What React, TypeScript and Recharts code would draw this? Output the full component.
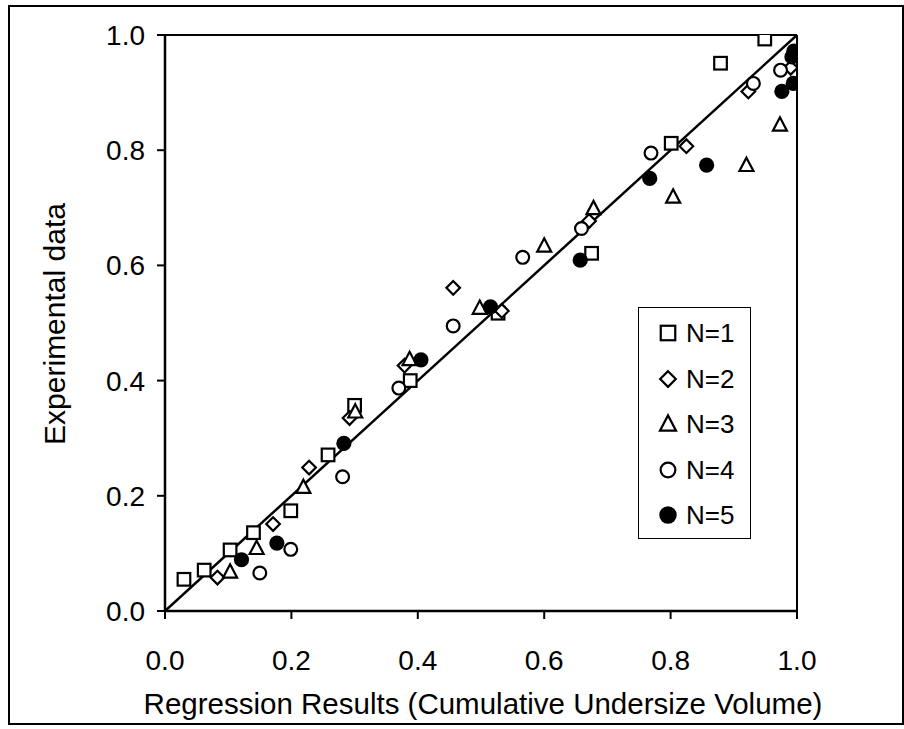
import React from "react";
import {
  ScatterChart,
  Scatter,
  XAxis,
  YAxis,
  ReferenceLine,
  Legend,
  Label,
} from "recharts";

const FONT = '"Liberation Sans", Arial, Helvetica, sans-serif';

// Tick values for both axes
const axisTicks = [0, 0.2, 0.4, 0.6, 0.8, 1.0];

// Perfect-agreement diagonal
const diagonal = [
  { x: 0, y: 0 },
  { x: 1, y: 1 },
];

// N=1 (open squares)
const seriesN1 = [
  { x: 0.03, y: 0.055 },
  { x: 0.062, y: 0.071 },
  { x: 0.103, y: 0.106 },
  { x: 0.14, y: 0.136 },
  { x: 0.199, y: 0.174 },
  { x: 0.258, y: 0.271 },
  { x: 0.3, y: 0.357 },
  { x: 0.388, y: 0.4 },
  { x: 0.527, y: 0.517 },
  { x: 0.675, y: 0.621 },
  { x: 0.801, y: 0.812 },
  { x: 0.879, y: 0.951 },
  { x: 0.949, y: 0.993 },
];

// N=2 (open diamonds)
const seriesN2 = [
  { x: 0.083, y: 0.058 },
  { x: 0.171, y: 0.151 },
  { x: 0.228, y: 0.249 },
  { x: 0.292, y: 0.335 },
  { x: 0.379, y: 0.426 },
  { x: 0.456, y: 0.561 },
  { x: 0.533, y: 0.521 },
  { x: 0.671, y: 0.677 },
  { x: 0.825, y: 0.807 },
  { x: 0.923, y: 0.902 },
  { x: 0.99, y: 0.943 },
];

// N=3 (open triangles)
const seriesN3 = [
  { x: 0.103, y: 0.068 },
  { x: 0.145, y: 0.109 },
  { x: 0.219, y: 0.215 },
  { x: 0.301, y: 0.346 },
  { x: 0.387, y: 0.437 },
  { x: 0.498, y: 0.526 },
  { x: 0.6, y: 0.634 },
  { x: 0.678, y: 0.699 },
  { x: 0.804, y: 0.719 },
  { x: 0.92, y: 0.774 },
  { x: 0.973, y: 0.844 },
];

// N=4 (open circles)
const seriesN4 = [
  { x: 0.15, y: 0.066 },
  { x: 0.199, y: 0.107 },
  { x: 0.281, y: 0.233 },
  { x: 0.37, y: 0.387 },
  { x: 0.456, y: 0.495 },
  { x: 0.566, y: 0.614 },
  { x: 0.659, y: 0.664 },
  { x: 0.769, y: 0.795 },
  { x: 0.931, y: 0.916 },
  { x: 0.974, y: 0.939 },
];

// N=5 (filled circles)
const seriesN5 = [
  { x: 0.121, y: 0.089 },
  { x: 0.177, y: 0.118 },
  { x: 0.283, y: 0.291 },
  { x: 0.405, y: 0.436 },
  { x: 0.515, y: 0.528 },
  { x: 0.657, y: 0.609 },
  { x: 0.767, y: 0.751 },
  { x: 0.857, y: 0.774 },
  { x: 0.976, y: 0.902 },
  { x: 0.994, y: 0.916 },
  { x: 0.992, y: 0.962 },
  { x: 0.995, y: 0.972 },
];

type Kind = "square" | "diamond" | "triangle" | "circle" | "dot";

const seriesList: { name: string; kind: Kind; data: { x: number; y: number }[] }[] = [
  { name: "N=1", kind: "square", data: seriesN1 },
  { name: "N=2", kind: "diamond", data: seriesN2 },
  { name: "N=3", kind: "triangle", data: seriesN3 },
  { name: "N=4", kind: "circle", data: seriesN4 },
  { name: "N=5", kind: "dot", data: seriesN5 },
];

function Marker({ kind, cx, cy, k = 1 }: { kind: Kind; cx: number; cy: number; k?: number }) {
  const sw = 2.2;
  if (cx == null || cy == null || isNaN(cx) || isNaN(cy)) return <g />;
  switch (kind) {
    case "square": {
      const h = 6.3 * k;
      return <rect x={cx - h} y={cy - h} width={2 * h} height={2 * h} fill="#fff" stroke="#000" strokeWidth={sw} />;
    }
    case "diamond": {
      const h = 6.8 * k;
      return (
        <polygon
          points={`${cx},${cy - h} ${cx + h},${cy} ${cx},${cy + h} ${cx - h},${cy}`}
          fill="#fff"
          stroke="#000"
          strokeWidth={sw}
        />
      );
    }
    case "triangle": {
      const w = 7 * k;
      return (
        <polygon
          points={`${cx},${cy - 7.5 * k} ${cx + w},${cy + 5.8 * k} ${cx - w},${cy + 5.8 * k}`}
          fill="#fff"
          stroke="#000"
          strokeWidth={sw}
          strokeLinejoin="miter"
        />
      );
    }
    case "circle":
      return <circle cx={cx} cy={cy} r={6.4 * k} fill="#fff" stroke="#000" strokeWidth={sw} />;
    case "dot":
    default:
      return <circle cx={cx} cy={cy} r={7.6 * k} fill="#000" stroke="#000" strokeWidth={0} />;
  }
}

const LegendBox = () => (
  <div
    style={{
      width: 113,
      height: 232,
      boxSizing: "border-box",
      border: "1.5px solid #000",
      background: "#fff",
      position: "relative",
      fontFamily: FONT,
    }}
  >
    {seriesList.map((s, i) => {
      const cy = 25 + i * 45.6;
      return (
        <div key={s.name} style={{ position: "absolute", left: 0, top: cy - 16, height: 32, width: 111 }}>
          <svg width={44} height={32} style={{ position: "absolute", left: 0, top: 0 }}>
            <Marker kind={s.kind} cx={29} cy={16} k={1.15} />
          </svg>
          <span
            style={{
              position: "absolute",
              left: 47,
              top: 0,
              lineHeight: "32px",
              fontSize: 26,
              color: "#000",
              whiteSpace: "nowrap",
            }}
          >
            {s.name}
          </span>
        </div>
      );
    })}
  </div>
);

const renderXTitle = (props: any) => {
  const vb = props.viewBox || {};
  return (
    <text
      x={vb.x + vb.width / 2 + 2}
      y={vb.y + 103}
      textAnchor="middle"
      fontSize={29.5}
      fontFamily={FONT}
      fill="#000"
    >
      Regression Results (Cumulative Undersize Volume)
    </text>
  );
};

const renderYTitle = (props: any) => {
  const vb = props.viewBox || {};
  const x = vb.x + 65;
  const y = vb.y + vb.height / 2 + 1;
  return (
    <text
      x={x}
      y={y}
      transform={`rotate(-90, ${x}, ${y})`}
      textAnchor="middle"
      fontSize={30}
      fontFamily={FONT}
      fill="#000"
    >
      Experimental data
    </text>
  );
};

const fmt = (v: number) => v.toFixed(1);

export default function App() {
  return (
    <div style={{ position: "fixed", left: 0, top: 0, width: 904, height: 729, background: "#fff" }}>
      <div
        style={{
          position: "absolute",
          left: 8,
          top: 5,
          width: 896,
          height: 720,
          boxSizing: "border-box",
          border: "2px solid #000",
        }}
      />
      <div style={{ position: "absolute", left: 0, top: 0 }}>
        <ScatterChart width={904} height={729} margin={{ top: 35, right: 107, bottom: 0, left: 0 }}>
          <XAxis
            type="number"
            dataKey="x"
            domain={[0, 1]}
            ticks={axisTicks}
            tickFormatter={fmt}
            height={118}
            tickSize={8}
            tickMargin={31}
            axisLine={{ stroke: "#000", strokeWidth: 2.5 }}
            tickLine={{ stroke: "#000", strokeWidth: 2 }}
            tick={{ fontSize: 28, fill: "#000", fontFamily: FONT }}
            allowDataOverflow
          >
            <Label content={renderXTitle} />
          </XAxis>
          <YAxis
            type="number"
            dataKey="y"
            domain={[0, 1]}
            ticks={axisTicks}
            tickFormatter={fmt}
            width={165}
            tickSize={8}
            tickMargin={12}
            axisLine={{ stroke: "#000", strokeWidth: 2.5 }}
            tickLine={{ stroke: "#000", strokeWidth: 2 }}
            tick={{ fontSize: 28, fill: "#000", fontFamily: FONT }}
            allowDataOverflow
          >
            <Label content={renderYTitle} />
          </YAxis>
          <ReferenceLine y={1} stroke="#000" strokeWidth={2} />
          <ReferenceLine x={1} stroke="#000" strokeWidth={2} />
          <Scatter
            name="fit"
            data={diagonal}
            line={{ stroke: "#000", strokeWidth: 2.5 }}
            shape={() => <g />}
            legendType="none"
            isAnimationActive={false}
          />
          {seriesList.map((s) => (
            <Scatter
              key={s.name}
              name={s.name}
              data={s.data}
              isAnimationActive={false}
              shape={(p: any) => <Marker kind={s.kind} cx={p.cx} cy={p.cy} />}
            />
          ))}
          <Legend
            layout="vertical"
            align="center"
            verticalAlign="middle"
            wrapperStyle={{ position: "absolute", left: 638, top: 307, width: 113, height: 232 }}
            content={() => <LegendBox />}
          />
        </ScatterChart>
      </div>
    </div>
  );
}
